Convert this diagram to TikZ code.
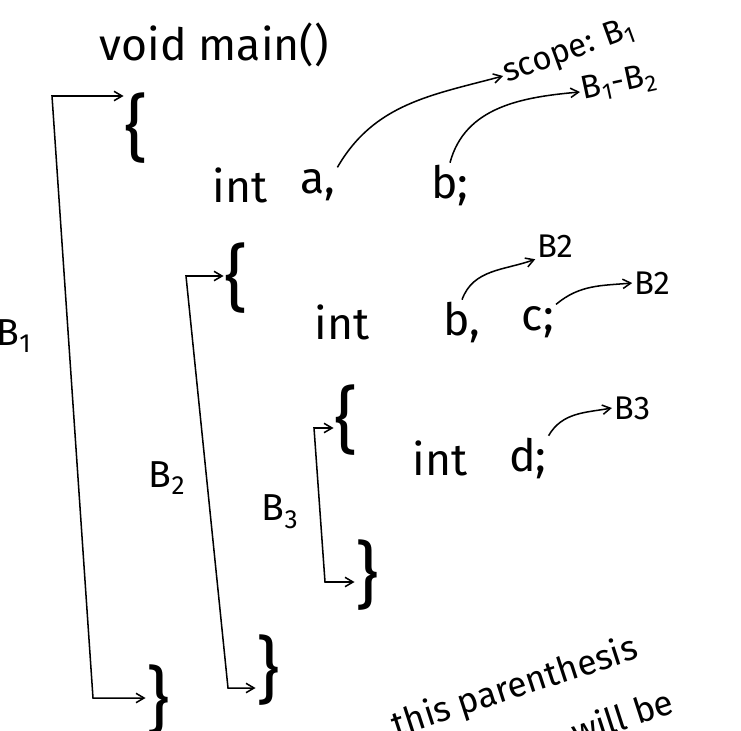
\documentclass[tikz,border=0pt]{standalone}
\usepackage{fontspec}
\setmainfont{Fira Sans}
\usetikzlibrary{arrows.meta}

\begin{document}
\begin{tikzpicture}[
    x=0.03cm, y=-0.03cm,
    >={Straight Barb[length=2.4mm, width=2.8mm]},
    line width=1.3pt,
    code/.style={font=\fontsize{38}{42}\selectfont, inner sep=1pt},
    brace/.style={font=\fontsize{62}{66}\selectfont, inner sep=0pt},
    scopelbl/.style={font=\fontsize{28}{32}\selectfont, inner sep=1pt},
    blocklbl/.style={font=\fontsize{32}{36}\selectfont, inner sep=1pt},
    note/.style={font=\fontsize{30}{34}\selectfont, inner sep=1pt, rotate=18}
]

\useasboundingbox (0,0) rectangle (741,730);

% outer block
\node[code, anchor=west] (main) at (98,45) {void main()};
\node[brace] (open1) at (136,128) {\{};
\node[code] (int1) at (240,185) {int};
\node[code] (a) at (318,185) {a,};
\node[code] (b) at (450,185) {b;};
\node[scopelbl, rotate=20, anchor=west] (scope) at (503,76) {scope: B\textsubscript{1}};
\node[scopelbl, rotate=12, anchor=west] (scopeb) at (580,92) {B\textsubscript{1}-B\textsubscript{2}};

% block B2
\node[brace] (open2) at (236,278) {\{};
\node[code] (int2) at (342,322) {int};
\node[code] (b2) at (462,322) {b,};
\node[code] (c) at (538,322) {c;};
\node[scopelbl] (bscope) at (555,246) {B2};
\node[scopelbl] (cscope) at (652,283) {B2};

% block B3
\node[brace] (open3) at (346,420) {\{};
\node[code] (int3) at (440,458) {int};
\node[code] (d) at (528,458) {d;};
\node[scopelbl] (dscope) at (632,408) {B3};

% closing braces
\node[brace] (close3) at (367,575) {\}};
\node[brace] (close2) at (268,670) {\}};
\node[brace] (close1) at (158,700) {\}};

% block labels
\node[blocklbl] (lblone) at (14,336) {B\textsubscript{1}};
\node[blocklbl] (lbltwo) at (167,478) {B\textsubscript{2}};
\node[blocklbl] (lblthree) at (280,512) {B\textsubscript{3}};

% bracket corners
\coordinate (topone) at (52,96);
\coordinate (botone) at (93,698);
\coordinate (toptwo) at (186,276);
\coordinate (bottwo) at (228,688);
\coordinate (topthree) at (314,428);
\coordinate (botthree) at (325,582);

\draw[<->] (topone -| open1.west) -- (topone) -- (botone) -- (botone -| close1.west);
\draw[<->] (toptwo -| open2.west) -- (toptwo) -- (bottwo) -- (bottwo -| close2.west);
\draw[<->] (topthree -| open3.west) -- (topthree) -- (botthree) -- (botthree -| close3.west);

% scope arrows
\path[->]
    (a.north east) edge[out=60, in=195] (scope.west)
    (b.north) edge[out=75, in=185] (scopeb.west)
    (b2.north) edge[out=70, in=200] (bscope.south west)
    (c.north east) edge[out=40, in=185] (cscope.west)
    (d.north east) edge[out=60, in=190] (dscope.west);

% note at the bottom
\node[note] (noteone) at (515,688) {this parenthesis};
\node[note] (notetwo) at (622,716) {will be};

\end{tikzpicture}
\end{document}
